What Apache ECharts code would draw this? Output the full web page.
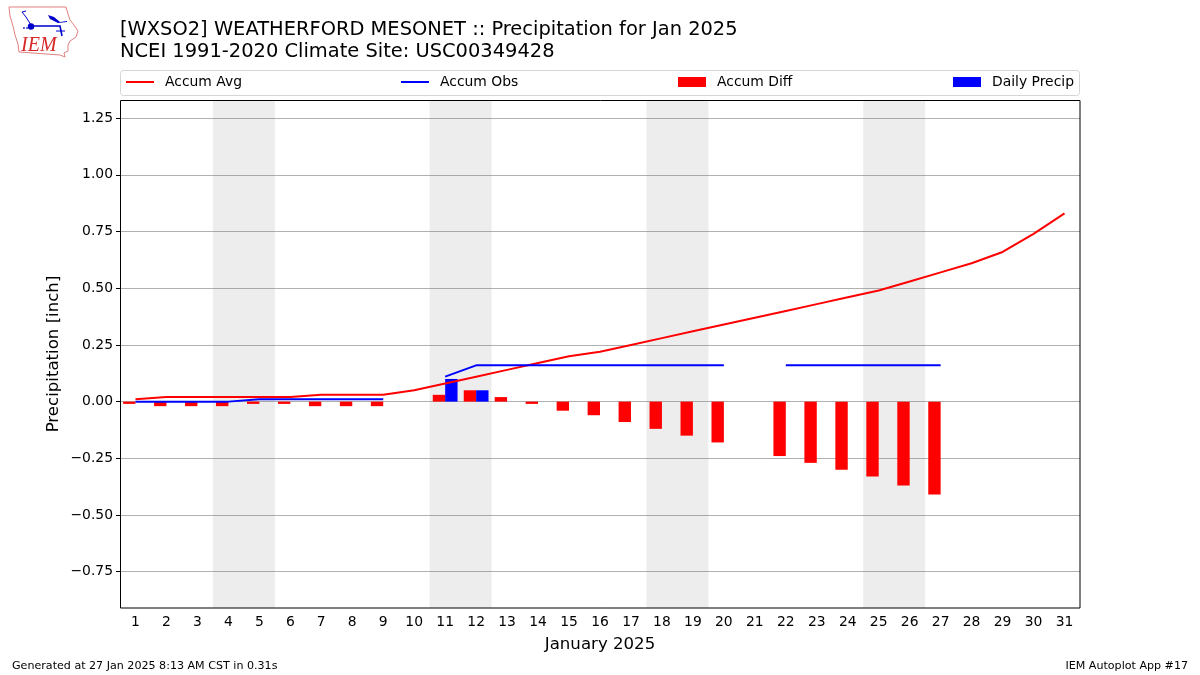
<!DOCTYPE html>
<html><head><meta charset="utf-8">
<style>html,body{margin:0;padding:0;background:#fff}#c{width:1200px;height:675px}</style>
<script src="https://cdn.jsdelivr.net/npm/echarts@6/dist/echarts.min.js"></script>
</head><body><div id="c"></div>
<script>
const days = ['1','2','3','4','5','6','7','8','9','10','11','12','13','14','15','16','17','18','19','20','21','22','23','24','25','26','27','28','29','30','31'];
const accumAvg = [0.01,0.02,0.02,0.02,0.02,0.02,0.03,0.03,0.03,0.05,0.08,0.11,0.14,0.17,0.20,0.22,0.25,0.28,0.31,0.34,0.37,0.40,0.43,0.46,0.49,0.53,0.57,0.61,0.66,0.74,0.83];
const accumObs = [0,0,0,0,0.01,0.01,0.01,0.01,0.01,null,0.11,0.16,0.16,0.16,0.16,0.16,0.16,0.16,0.16,0.16,null,0.16,0.16,0.16,0.16,0.16,0.16,null,null,null,null];
const accumDiff = [-0.01,-0.02,-0.02,-0.02,-0.01,-0.01,-0.02,-0.02,-0.02,null,0.03,0.05,0.02,-0.01,-0.04,-0.06,-0.09,-0.12,-0.15,-0.18,null,-0.24,-0.27,-0.30,-0.33,-0.37,-0.41,null,null,null,null];
const dailyPrecip = [null,null,null,null,null,null,null,null,null,null,0.10,0.05,null,null,null,null,null,null,null,null,null,null,null,null,null,null,null,null,null,null,null];
const weekendSpans = [[3.5,5.5],[10.5,12.5],[17.5,19.5],[24.5,26.5]];
const yTicks = [-0.75,-0.5,-0.25,0,0.25,0.5,0.75,1,1.25];
const titleLines = ['[WXSO2] WEATHERFORD MESONET :: Precipitation for Jan 2025','NCEI 1991-2020 Climate Site: USC00349428'];
const font = '"DejaVu Sans"';
const iowa = [[9,7],[66,7],[68,14],[70,20],[74,25],[78,31],[76,37],[70,41],[68,45],[68,51],[64,53],[65,57],[60,55],[19,52],[18,44],[15,35],[13,26],[10,16]];
const lineIcon = 'path://M0 0H28V2H0Z';
const chart = echarts.init(document.getElementById('c'));
const legendOf = (name,left,icon,h)=>({show:true,data:[{name,icon}],left,top:75,padding:0,itemWidth:28,itemHeight:h,selectedMode:false,textStyle:{fontFamily:font,fontSize:13.9,color:'#000',padding:[0,0,0,6]}});
const tstyle = (s)=>({fontFamily:font,fontSize:s,fontWeight:'normal',color:'#000'});
chart.setOption({
  animation:false,
  backgroundColor:'#fff',
  title:[
    {text:titleLines[0],left:120,top:20,padding:0,textStyle:tstyle(19.45)},
    {text:titleLines[1],left:120,top:42,padding:0,textStyle:tstyle(19.45)},
    {text:'Generated at 27 Jan 2025 8:13 AM CST in 0.31s',left:12,top:661,padding:0,textStyle:tstyle(11.1)},
    {text:'IEM Autoplot App #17',right:12,top:661,padding:0,textStyle:tstyle(11.1)}
  ],
  legend:[legendOf('Accum Avg',126,lineIcon,2),legendOf('Accum Obs',401,lineIcon,2),legendOf('Accum Diff',678,'rect',10),legendOf('Daily Precip',953,'rect',10)],
  grid:{left:120,right:120,top:100,bottom:67,show:false},
  xAxis:[
    {type:'category',data:days,name:'January 2025',nameLocation:'middle',nameGap:28,nameTextStyle:{fontFamily:font,fontSize:16.6,color:'#000'},
     axisTick:{alignWithLabel:true,length:4,lineStyle:{color:'#000'}},axisLine:{show:false,onZero:false},splitLine:{show:false},
     axisLabel:{interval:0,fontFamily:font,fontSize:13.9,color:'#000',margin:7}},
    {type:'value',min:0.5,max:31.5,show:false}
  ],
  yAxis:{type:'value',min:-0.91,max:1.33,name:'Precipitation [inch]',nameLocation:'middle',nameGap:58,nameRotate:90,nameMoveOverlap:false,
     nameTextStyle:{fontFamily:font,fontSize:16.6,color:'#000'},
     axisLine:{show:false},axisTick:{show:true,length:4,lineStyle:{color:'#000'},customValues:yTicks},
     splitLine:{show:true,lineStyle:{color:'#b0b0b0',width:1}},
     axisLabel:{customValues:yTicks,fontFamily:font,fontSize:13.9,color:'#000',margin:7,padding:[4,0,0,0],formatter:v=>v.toFixed(2).replace('-','\u2212')}},
  series:[
    {name:'Weekend',type:'line',xAxisIndex:1,data:[],silent:true,
     markArea:{silent:true,itemStyle:{color:'rgba(128,128,128,0.14)'},data:weekendSpans.map(s=>[{xAxis:s[0]},{xAxis:s[1]}])}},
    {name:'Accum Diff',type:'bar',data:accumDiff,barWidth:'40%',barGap:0,itemStyle:{color:'#ff0000'},z:3},
    {name:'Daily Precip',type:'bar',data:dailyPrecip,barWidth:'40%',barGap:0,itemStyle:{color:'#0000ff'},z:3},
    {name:'Accum Avg',type:'line',data:accumAvg,showSymbol:false,symbol:'none',lineStyle:{color:'#ff0000',width:2},itemStyle:{color:'#ff0000'},z:4},
    {name:'Accum Obs',type:'line',data:accumObs,showSymbol:false,symbol:'none',connectNulls:false,lineStyle:{color:'#0000ff',width:2},itemStyle:{color:'#0000ff'},z:5}
  ],
  graphic:[
    {type:'rect',z:-1,shape:{x:120.5,y:70.5,width:959,height:25,r:3},style:{fill:'#fff',stroke:'#d5d5d5',lineWidth:1}},
    {type:'rect',z:100,shape:{x:120.5,y:100.5,width:959.5,height:507.5},style:{fill:'none',stroke:'#000',lineWidth:1}},
    {type:'polygon',shape:{points:iowa},style:{fill:'#fff',stroke:'#e28080',lineWidth:1}},
    {type:'polyline',shape:{points:[[31,26],[60,26],[62,36]]},style:{fill:'none',stroke:'#0000cc',lineWidth:1.6}},
    {type:'polyline',shape:{points:[[31,25],[26,17],[22,12],[26,11]]},style:{fill:'none',stroke:'#0000cc',lineWidth:1}},
    {type:'polygon',shape:{points:[[48,15],[54,17],[60,22],[67,21],[67,22],[58,23],[50,19]]},style:{fill:'#0000cc'}},
    {type:'polyline',shape:{points:[[56,31],[65,31]]},style:{fill:'none',stroke:'#0000cc',lineWidth:1}},
    {type:'circle',shape:{cx:31,cy:26.5,r:3.2},style:{fill:'#0000cc'}},
    {type:'circle',shape:{cx:24,cy:28,r:1},style:{fill:'#3333cc'}},
    {type:'circle',shape:{cx:27,cy:28,r:1},style:{fill:'#3333cc'}},
    {type:'text',left:21,top:36,style:{text:'IEM',font:'italic 20px "Liberation Serif"',fill:'#d62828'}}
  ]
});
</script></body></html>
